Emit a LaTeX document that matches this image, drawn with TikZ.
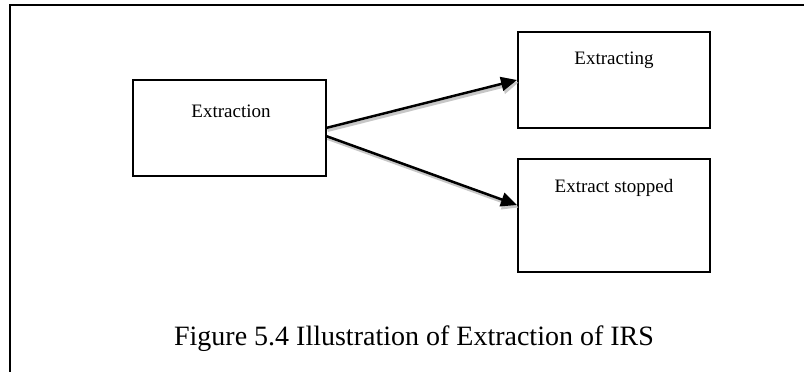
\documentclass[tikz,border=0pt]{standalone}
\usepackage{fontspec}
\setmainfont{Liberation Serif}
\usetikzlibrary{arrows.meta}
\begin{document}
\begin{tikzpicture}[x=1pt,y=-1pt,
  stepbox/.style={draw=black,line width=2pt,minimum width=#1,inner sep=0pt,outer sep=0pt},
  boxtext/.style={anchor=base,font=\fontsize{19}{22}\selectfont,inner sep=0pt},
  flow/.style={line width=2.5pt,-{Triangle[length=16pt,width=14pt]}},
  flowshadow/.style={line width=3pt,draw=black!22,-{Triangle[length=16pt,width=15pt]}}]
\useasboundingbox (0,0) rectangle (804,372);
% frame
\draw[line width=2pt] (10,372) -- (10,5) -- (804,5);
% boxes
\node[stepbox=193pt,minimum height=96pt] (ex) at (229.5,128) {};
\node[stepbox=192pt,minimum height=96pt] (ing) at (614,80) {};
\node[stepbox=192pt,minimum height=113pt] (stp) at (614,215.5) {};
% labels
\node[boxtext] (exl) at (231,117) {Extraction};
\node[boxtext] (ingl) at (614,64) {Extracting};
\node[boxtext] (stpl) at (614,192) {Extract stopped};
% connector end points
\coordinate (s1) at ([yshift=0pt]ex.east);
\coordinate (s2) at ([yshift=-8pt]ex.east);
\coordinate (e1) at ([xshift=-1pt]ing.west);
\coordinate (e2) at ([xshift=-1pt,yshift=10.5pt]stp.west);
% shadows
\draw[flowshadow] ([xshift=1.5pt,yshift=-2.5pt]s1) -- ([xshift=1.5pt,yshift=-2.5pt]e1);
\draw[flowshadow] ([xshift=1.5pt,yshift=-2.5pt]s2) -- ([xshift=1.5pt,yshift=-2.5pt]e2);
% connectors
\draw[flow] (s1) -- (e1);
\draw[flow] (s2) -- (e2);
% caption
\node[anchor=base,inner sep=0pt,font=\fontsize{28}{32}\selectfont] (cap) at (414,345) {Figure 5.4 Illustration of Extraction of IRS};
\end{tikzpicture}
\end{document}
